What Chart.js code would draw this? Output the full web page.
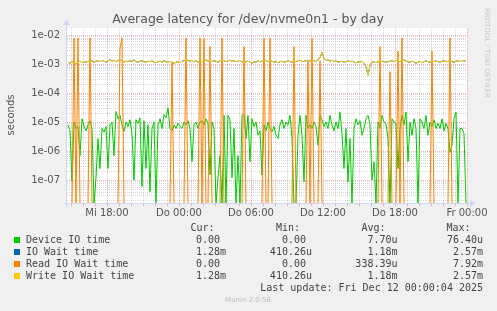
<!DOCTYPE html>
<html>
<head>
<meta charset="utf-8">
<script src="https://cdn.jsdelivr.net/npm/chart.js@4.4.1/dist/chart.umd.min.js"></script>
<style>
  html, body { margin: 0; padding: 0; background: #f0f0f0; }
  canvas { display: block; }
</style>
</head>
<body>
<canvas id="c" width="497" height="311"></canvas>
<script>
// 10 minute samples, Wed 14:40 -> Fri 00:00
const deviceIO = [
  8e-6, 5e-6, 9e-8, 1e-5, 6e-6, 7e-6, 7e-7, 1.3e-5, 7e-6, 5e-6,
  8e-6, 1.1e-5, 6e-6, 0, 1.2e-7, 2.7e-6, 2.5e-7, 6e-6, 4.5e-6, 7e-6,
  2.5e-7, 8e-6, 1e-5, 7e-7, 2.3e-5, 1.3e-5, 1.7e-5, 8e-6, 4.7e-6, 1e-5,
  7e-6, 1.2e-5, 4e-6, 1e-7, 1.2e-5, 9e-6, 1.4e-5, 6e-8, 1.1e-5, 2.5e-7,
  8e-6, 4e-8, 6e-6, 1e-5, 0, 8e-6, 1.3e-5, 6e-6, 1.8e-5, 1.4e-5,
  3.1e-5, 6e-6, 5e-6, 8e-6, 6e-6, 9e-6, 7e-6, 6e-6, 1e-5, 8e-6,
  1.1e-5, 6e-6, 4.3e-7, 8e-6, 1e-5, 6e-6, 1e-5, 1.1e-5, 8e-6, 1.3e-5,
  9e-6, 1.5e-7, 1e-5, 6e-6, 0, 1.2e-7, 7e-7, 0, 1.7e-5, 0,
  1.7e-5, 1.2e-5, 1.2e-7, 6e-6, 0, 7e-7, 0, 1.7e-5, 1.9e-5, 2.7e-6,
  1.7e-5, 4.3e-7, 1.3e-5, 7e-6, 1e-5, 3.5e-6, 5e-6, 1.5e-7, 8e-6, 5e-6,
  1e-5, 6e-6, 4.6e-6, 7e-6, 3.5e-6, 2.7e-6, 8e-6, 1.2e-5, 6e-6, 1e-5,
  8e-6, 1.7e-5, 2.7e-6, 0, 0, 3.5e-6, 1.7e-5, 3.5e-6, 8.7e-8, 1.7e-5,
  6e-6, 8e-6, 6e-6, 1e-5, 7e-6, 1.6e-6, 1.7e-5, 1.2e-5, 7e-6, 1e-5,
  6e-6, 1.7e-5, 8e-6, 5e-6, 1e-5, 6e-6, 2.2e-5, 4e-6, 2.5e-7, 6e-6,
  8.7e-8, 2.7e-6, 0, 6e-6, 1.3e-5, 8e-6, 1.1e-5, 3.5e-6, 6e-6, 1.3e-5,
  1.7e-5, 8e-6, 1e-7, 4.3e-7, 0, 1e-5, 6e-6, 1.7e-5, 1e-5, 9e-6,
  2.7e-6, 0, 1.3e-5, 1e-5, 9e-6, 2.5e-7, 6e-6, 1.7e-5, 8e-6, 2.2e-5,
  4.3e-7, 1e-5, 3.5e-6, 1.3e-5, 6e-6, 0, 1.3e-5, 1e-5, 6e-6, 1.7e-5,
  3.5e-6, 1e-5, 7e-6, 1.2e-5, 6e-6, 9e-6, 6e-6, 1.3e-5, 5e-6, 9e-6,
  6e-6, 9e-7, 1.6e-6, 1.3e-5, 2.2e-5, 0, 6e-6, 6e-6, 4e-6, 0
];

const readWait = [
  0, 0, 0, 7.9e-3, 0, 7.9e-3, 0, 0, 0, 0,
  0, 7.9e-3, 0, 0, 0, 0, 0, 0, 0, 0,
  0, 0, 0, 0, 0, 0, 3.5e-3, 7.9e-3, 0, 0,
  0, 0, 0, 0, 0, 0, 0, 0, 0, 0,
  0, 0, 0, 0, 0, 0, 0, 0, 0, 0,
  0, 0, 1.2e-3, 0, 0, 0, 0, 0, 0, 7.9e-3,
  0, 0, 0, 0, 0, 0, 7.9e-3, 0, 7.5e-3, 0,
  0, 4e-3, 0, 0, 0, 0, 0, 7.9e-3, 0, 0,
  0, 0, 0, 0, 0, 0, 0, 0, 4e-3, 0,
  0, 0, 0, 0, 0, 0, 0, 0, 7.92e-3, 0,
  0, 7.9e-3, 0, 0, 0, 0, 0, 0, 0, 0,
  0, 0, 0, 4e-3, 0, 0, 0, 0, 0, 0,
  1.3e-3, 0, 7.9e-3, 0, 0, 0, 1.3e-3, 0, 0, 0,
  0, 0, 0, 0, 0, 0, 0, 0, 0, 0,
  0, 0, 0, 0, 0, 0, 0, 0, 0, 0,
  0, 0, 0, 0, 0, 0, 4e-3, 0, 0, 0,
  0, 5.5e-4, 0, 0, 0, 2.8e-3, 0, 7.9e-3, 0, 0,
  0, 0, 0, 0, 0, 0, 0, 0, 0, 0,
  0, 0, 2.8e-3, 0, 0, 0, 0, 0, 0, 0,
  0, 7.9e-3, 0, 0, 0, 0, 0, 0, 0, 0
];

const writeWait = [
  1.15e-3, 1.05e-3, 1.2e-3, 1.1e-3, 1.0e-3, 1.15e-3, 1.25e-3, 1.1e-3, 1.2e-3, 1.15e-3,
  1.25e-3, 1.2e-3, 1.3e-3, 1.15e-3, 1.25e-3, 1.3e-3, 1.2e-3, 1.35e-3, 1.25e-3, 1.15e-3,
  1.3e-3, 1.4e-3, 1.25e-3, 1.35e-3, 1.2e-3, 1.3e-3, 1.45e-3, 1.3e-3, 1.15e-3, 1.25e-3,
  1.2e-3, 1.3e-3, 1.25e-3, 1.4e-3, 1.2e-3, 1.15e-3, 1.25e-3, 1.3e-3, 1.2e-3, 1.15e-3,
  1.25e-3, 1.2e-3, 1.3e-3, 1.15e-3, 1.1e-3, 1.2e-3, 1.25e-3, 1.15e-3, 1.3e-3, 1.2e-3,
  1.15e-3, 1.25e-3, 1.1e-3, 1.05e-3, 1.15e-3, 1.2e-3, 1.1e-3, 1.25e-3, 1.3e-3, 1.45e-3,
  1.3e-3, 1.25e-3, 1.35e-3, 1.2e-3, 1.3e-3, 1.15e-3, 1.25e-3, 1.2e-3, 1.3e-3, 1.4e-3,
  1.25e-3, 1.35e-3, 1.2e-3, 1.3e-3, 1.25e-3, 1.15e-3, 1.3e-3, 1.4e-3, 1.3e-3, 1.2e-3,
  1.3e-3, 1.35e-3, 1.25e-3, 1.3e-3, 1.2e-3, 1.25e-3, 1.35e-3, 1.2e-3, 1.1e-3, 1.2e-3,
  1.25e-3, 1.15e-3, 1.05e-3, 1.2e-3, 1.15e-3, 1.3e-3, 1.2e-3, 1.25e-3, 1.4e-3, 1.3e-3,
  1.2e-3, 1.35e-3, 1.25e-3, 1.15e-3, 1.2e-3, 1.1e-3, 1.2e-3, 1.25e-3, 1.15e-3, 1.2e-3,
  1.3e-3, 1.2e-3, 1.15e-3, 1.25e-3, 1.2e-3, 1.3e-3, 1.35e-3, 1.2e-3, 1.25e-3, 1.3e-3,
  1.35e-3, 1.25e-3, 1.4e-3, 1.3e-3, 1.2e-3, 1.45e-3, 1.6e-3, 2.57e-3, 1.5e-3, 1.3e-3,
  1.4e-3, 1.25e-3, 1.35e-3, 1.2e-3, 1.3e-3, 1.15e-3, 1.2e-3, 1.25e-3, 1.15e-3, 1.2e-3,
  1.3e-3, 1.2e-3, 1.25e-3, 1.15e-3, 1.1e-3, 1.2e-3, 1.15e-3, 1.25e-3, 1.1e-3, 8e-4,
  4.1e-4, 9e-4, 1.15e-3, 1.2e-3, 1.1e-3, 1.2e-3, 1.15e-3, 1.25e-3, 1.2e-3, 1.15e-3,
  1.2e-3, 1.25e-3, 1.3e-3, 1.2e-3, 1.35e-3, 1.25e-3, 1.2e-3, 1.3e-3, 1.4e-3, 1.25e-3,
  1.2e-3, 1.15e-3, 1.25e-3, 1.2e-3, 1.05e-3, 1.15e-3, 1.25e-3, 1.1e-3, 1.2e-3, 1.3e-3,
  1.2e-3, 1.15e-3, 1.25e-3, 1.2e-3, 1.3e-3, 1.2e-3, 1.15e-3, 1.25e-3, 1.3e-3, 1.2e-3,
  1.25e-3, 1.35e-3, 1.2e-3, 1.15e-3, 1.25e-3, 1.3e-3, 1.2e-3, 1.35e-3, 1.25e-3, 1.28e-3
];
// total io wait is the same as write wait here (drawn underneath)
const ioWait = writeWait;

const tickPos = [20, 56, 92, 128, 164, 200];
const tickLabels = ['Mi 18:00', 'Do 00:00', 'Do 06:00', 'Do 12:00', 'Do 18:00', 'Fr 00:00'];
const yTicks = [1e-7, 1e-6, 1e-5, 1e-4, 1e-3, 1e-2];
const yMin = 1.5e-8;
const yMax = 1.74e-2;

const names = ['Device IO time', 'IO Wait time', 'Read IO Wait time', 'Write IO Wait time'];
const colors = ['#00cc00', '#0066b3', '#ff8000', '#ffcc00'];
const curVals = ['0.00', '1.28m', '0.00', '1.28m'];
const minVals = ['0.00', '410.26u', '0.00', '410.26u'];
const avgVals = ['7.70u', '1.18m', '338.39u', '1.18m'];
const maxVals = ['76.40u', '2.57m', '7.92m', '2.57m'];

// zero can't sit on a log axis: like rrdtool, put it on the bottom edge
const toPoints = arr => arr.map((v, i) => ({ x: i + 0.5, y: v > 0 ? v : yMin }));

function expLabel(v) {
    const e = Math.round(Math.log10(v));
    return '1e' + (e < 0 ? '-' : '+') + String(Math.abs(e)).padStart(2, '0');
}

const MINOR = 'rgba(150,150,150,0.35)';
const MAJOR = 'rgba(220,110,110,0.5)';
const AXIS = '#cfd6f8';
const FONT = '#555';

function hline(ctx, x1, x2, y) { ctx.beginPath(); ctx.moveTo(x1, y); ctx.lineTo(x2, y); ctx.stroke(); }
function vline(ctx, x, y1, y2) { ctx.beginPath(); ctx.moveTo(x, y1); ctx.lineTo(x, y2); ctx.stroke(); }

const rrdPlugin = {
    id: 'rrd',
    beforeDatasetsDraw(chart) {
        const { ctx, chartArea: a, scales: { x, y } } = chart;
        ctx.save();
        ctx.fillStyle = '#fff';
        ctx.fillRect(a.left, a.top, a.right - a.left, a.bottom - a.top);
        ctx.lineWidth = 1;
        ctx.setLineDash([1, 1]);
        ctx.strokeStyle = MINOR;
        for (let d = -9; d <= -2; d++) {
            for (let k = 2; k <= 9; k++) {
                const v = k * Math.pow(10, d);
                if (v < y.min || v > y.max) continue;
                hline(ctx, a.left, a.right, Math.round(y.getPixelForValue(v)) + 0.5);
            }
        }
        for (let t = 2; t <= 200; t += 6) {
            if (tickPos.includes(t)) continue;
            vline(ctx, Math.round(x.getPixelForValue(t)) + 0.5, a.top, a.bottom);
        }
        ctx.strokeStyle = MAJOR;
        for (const v of yTicks) hline(ctx, a.left, a.right, Math.round(y.getPixelForValue(v)) + 0.5);
        for (const t of tickPos) vline(ctx, Math.round(x.getPixelForValue(t)) + 0.5, a.top, a.bottom);
        ctx.restore();
    },
    afterDatasetsDraw(chart) {
        const { ctx, chartArea: a, scales: { x } } = chart;
        ctx.save();
        ctx.setLineDash([]);
        ctx.lineWidth = 1;
        // little tick marks under the axis
        ctx.strokeStyle = MAJOR;
        for (let t = 2; t <= 200; t += 6) {
            vline(ctx, Math.round(x.getPixelForValue(t)) + 0.5, a.bottom, a.bottom + 2);
        }
        ctx.strokeStyle = AXIS;
        ctx.fillStyle = AXIS;
        hline(ctx, a.left - 3, a.right + 4, a.bottom - 0.5);
        vline(ctx, a.left - 0.5, a.bottom + 3, a.top - 4);
        ctx.beginPath();
        ctx.moveTo(a.right + 9, a.bottom - 0.5);
        ctx.lineTo(a.right + 3, a.bottom - 4);
        ctx.lineTo(a.right + 3, a.bottom + 3);
        ctx.closePath();
        ctx.fill();
        ctx.beginPath();
        ctx.moveTo(a.left - 0.5, a.top - 9);
        ctx.lineTo(a.left - 4, a.top - 3);
        ctx.lineTo(a.left + 3, a.top - 3);
        ctx.closePath();
        ctx.fill();
        ctx.restore();
    },
    afterDraw(chart) {
        const ctx = chart.ctx;
        ctx.save();
        ctx.fillStyle = FONT;
        ctx.textBaseline = 'middle';
        ctx.textAlign = 'center';
        ctx.font = '12.5px "DejaVu Sans"';
        ctx.fillText('Average latency for /dev/nvme0n1 - by day', 248, 20);

        ctx.save();
        ctx.font = '10px "DejaVu Sans"';
        ctx.translate(11, 115);
        ctx.rotate(-Math.PI / 2);
        ctx.fillText('seconds', 0, 0);
        ctx.restore();

        ctx.save();
        ctx.fillStyle = '#c8c8c8';
        ctx.font = '7px "DejaVu Sans"';
        ctx.translate(487, 53);
        ctx.rotate(Math.PI / 2);
        ctx.fillText('RRDTOOL / TOBI OETIKER', 0, 0);
        ctx.restore();

        ctx.fillStyle = '#c0c0c0';
        ctx.font = '7px "DejaVu Sans"';
        ctx.fillText('Munin 2.0.56', 248, 300);

        ctx.fillStyle = '#444';
        ctx.font = '10px "DejaVu Sans Mono"';
        ctx.textAlign = 'left';
        ctx.fillText('Cur:', 190.5, 228);
        ctx.fillText('Min:', 276, 228);
        ctx.fillText('Avg:', 361.5, 228);
        ctx.fillText('Max:', 446.5, 228);
        const colRight = [226, 312, 397.5, 483];
        const cols = [curVals, minVals, avgVals, maxVals];
        names.forEach((n, r) => {
            const yy = 240 + r * 12;
            ctx.fillStyle = colors[r];
            ctx.fillRect(14, yy - 3, 6, 6);
            ctx.fillStyle = '#444';
            ctx.textAlign = 'left';
            ctx.fillText(n, 26, yy);
            ctx.textAlign = 'right';
            cols.forEach((c, k) => {
                const s = c[r];
                const unit = /[a-zA-Z]$/.test(s);
                ctx.fillText(unit ? s : s + ' ', colRight[k], yy);
            });
        });
        ctx.textAlign = 'right';
        ctx.fillText('Last update: Fri Dec 12 00:00:04 2025', 483, 288);
        ctx.restore();
    }
};

const lineDs = (label, arr, color, order) => ({
    label,
    data: toPoints(arr),
    borderColor: color,
    borderWidth: 1,
    pointRadius: 0,
    tension: 0,
    fill: false,
    order
});

new Chart(document.getElementById('c'), {
    type: 'line',
    data: {
        datasets: [
            lineDs(names[0], deviceIO, colors[0], 4),
            lineDs(names[1], ioWait, colors[1], 3),
            lineDs(names[2], readWait, colors[2], 2),
            lineDs(names[3], writeWait, colors[3], 1)
        ]
    },
    plugins: [rrdPlugin],
    options: {
        responsive: false,
        animation: false,
        devicePixelRatio: 1,
        layout: { padding: { left: 0, right: 30, top: 28, bottom: 87 } },
        plugins: { legend: { display: false }, tooltip: { enabled: false }, title: { display: false } },
        scales: {
            x: {
                type: 'linear',
                min: 0,
                max: 200,
                bounds: 'data',
                grid: { display: false, drawTicks: false },
                border: { display: false },
                afterFit: s => { s.height = 20; },
                afterBuildTicks: s => { s.ticks = tickPos.map(v => ({ value: v })); },
                ticks: {
                    autoSkip: false,
                    maxRotation: 0,
                    padding: 3,
                    color: FONT,
                    font: { family: 'DejaVu Sans', size: 10 },
                    callback: v => tickLabels[tickPos.indexOf(v)]
                }
            },
            y: {
                type: 'logarithmic',
                min: yMin,
                max: yMax,
                bounds: 'data',
                grid: { display: false, drawTicks: false },
                border: { display: false },
                afterFit: s => { s.width = 67; },
                afterBuildTicks: s => { s.ticks = yTicks.map(v => ({ value: v })); },
                ticks: {
                    padding: 7,
                    color: FONT,
                    font: { family: 'DejaVu Sans', size: 10 },
                    callback: v => expLabel(v)
                }
            }
        }
    }
});
</script>
</body>
</html>
